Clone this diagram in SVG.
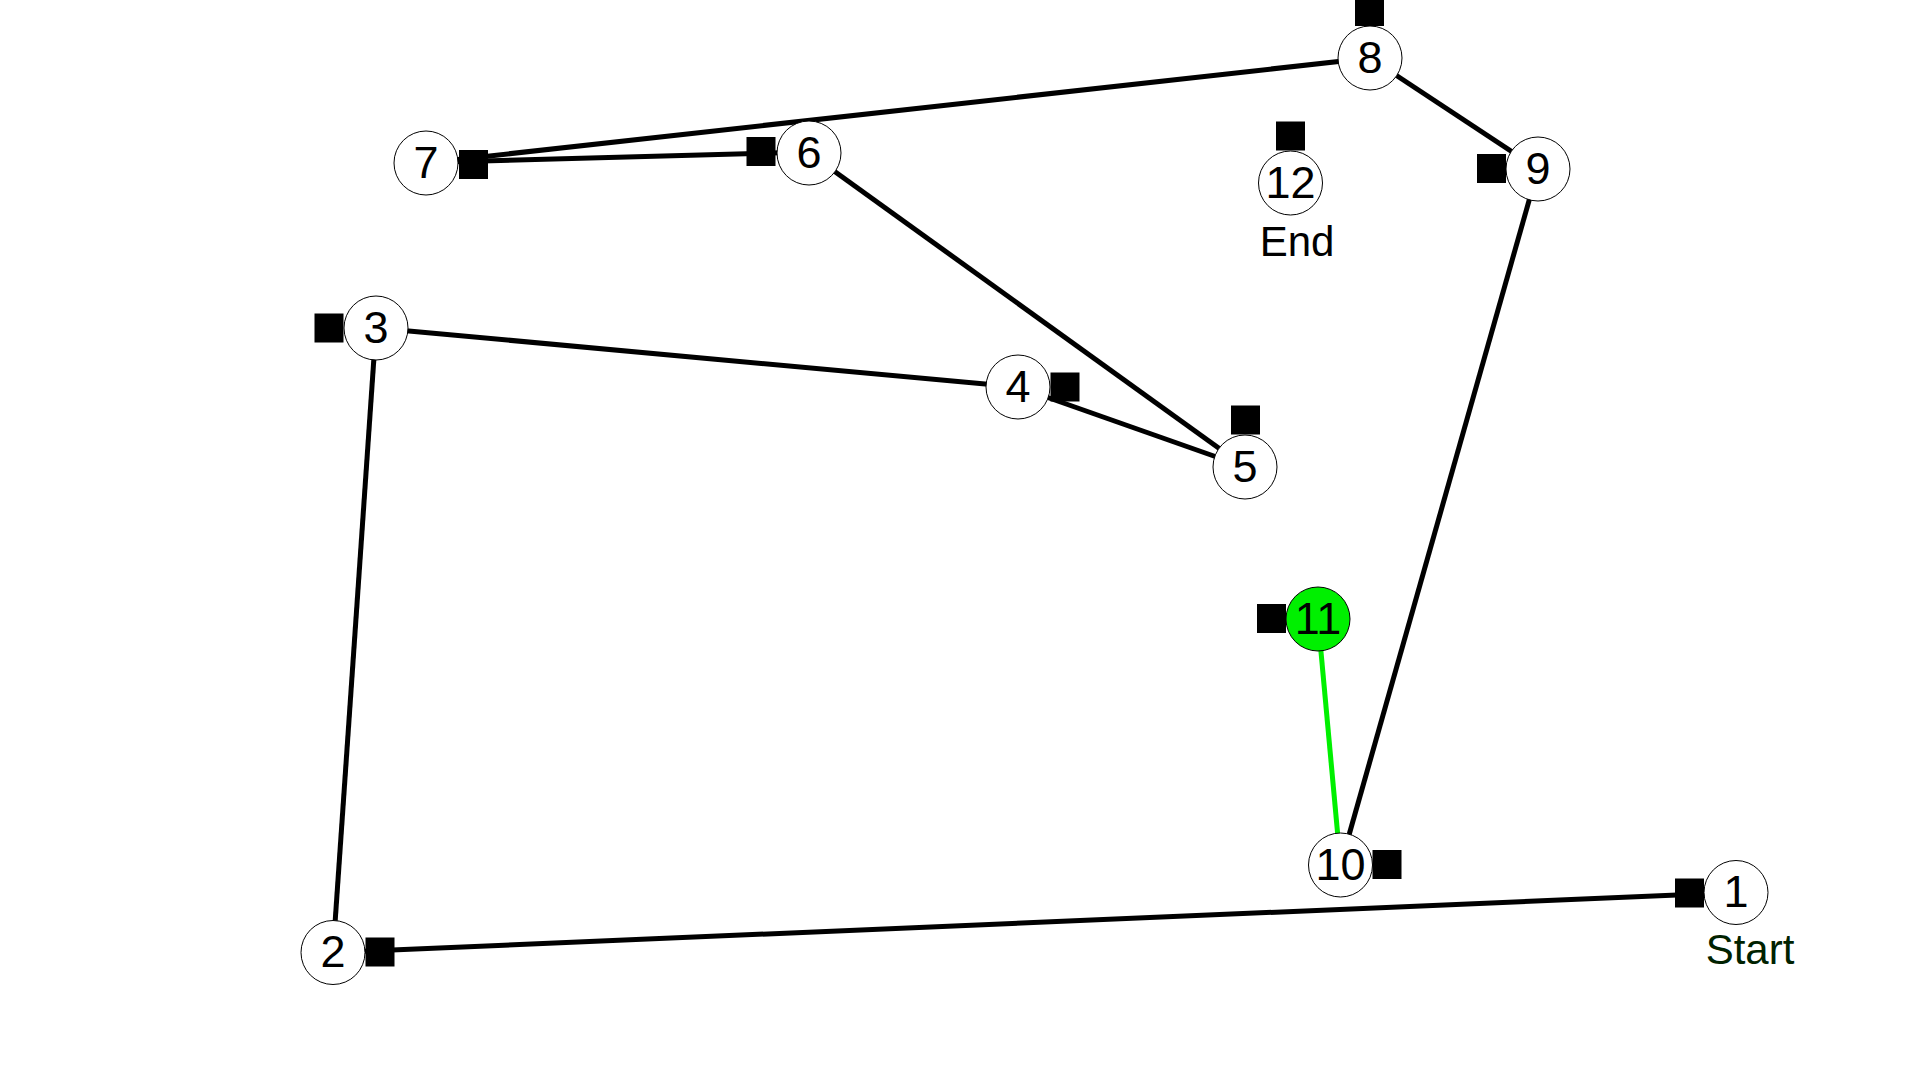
<svg xmlns="http://www.w3.org/2000/svg" width="1920" height="1080" viewBox="0 0 1920 1080">
<style>
.edge{stroke:#000;stroke-width:5;fill:none}
.edge.active{stroke:#00f000;stroke-width:5}
.node circle{fill:#fff;stroke:#000;stroke-width:1}
.node.active circle{fill:#00f000}
.port{fill:#000}
.num{font-family:"Liberation Sans",Arial,sans-serif;font-size:45px;text-anchor:middle;fill:#000}
.lbl{font-family:"Liberation Sans",Arial,sans-serif;font-size:42px;text-anchor:middle}
</style>
<rect width="1920" height="1080" fill="#fff"/>
<g id="connectors">
<line class="edge" x1="1736" y1="892.5" x2="333" y2="952.5"/>
<line class="edge" x1="333" y1="952.5" x2="376" y2="328"/>
<line class="edge" x1="376" y1="328" x2="1018" y2="387"/>
<line class="edge" x1="1018" y1="387" x2="1245" y2="467"/>
<line class="edge" x1="1245" y1="467" x2="809" y2="153"/>
<line class="edge" x1="809" y1="152" x2="426" y2="162.5"/>
<line class="edge" x1="426" y1="163" x2="1370" y2="58"/>
<line class="edge" x1="1370" y1="58" x2="1538" y2="169"/>
<line class="edge" x1="1538" y1="169" x2="1340.5" y2="865"/>
<line class="edge active" x1="1340.5" y1="865" x2="1318" y2="619"/>
</g>
<g id="node1" class="node"><circle cx="1736" cy="892.5" r="32"/><rect class="port" x="1675" y="878.5" width="29" height="29"/><text class="num" x="1736" y="907">1</text><text class="lbl" x="1750" y="964" fill="#002200">Start</text></g>
<g id="node2" class="node"><circle cx="333" cy="952.5" r="32"/><rect class="port" x="365.5" y="937.5" width="29" height="29"/><text class="num" x="333" y="967">2</text></g>
<g id="node3" class="node"><circle cx="376" cy="328" r="32"/><rect class="port" x="314.5" y="313.5" width="29" height="29"/><text class="num" x="376" y="342.5">3</text></g>
<g id="node4" class="node"><circle cx="1018" cy="387" r="32"/><rect class="port" x="1050.5" y="372.5" width="29" height="29"/><text class="num" x="1018" y="401.5">4</text></g>
<g id="node5" class="node"><circle cx="1245" cy="467" r="32"/><rect class="port" x="1231" y="405.5" width="29" height="29"/><text class="num" x="1245" y="481.5">5</text></g>
<g id="node6" class="node"><circle cx="809" cy="153" r="32"/><rect class="port" x="746.5" y="137" width="29" height="29"/><text class="num" x="809" y="167.5">6</text></g>
<g id="node7" class="node"><circle cx="426" cy="163" r="32"/><rect class="port" x="459" y="150" width="29" height="29"/><text class="num" x="426" y="177.5">7</text></g>
<g id="node8" class="node"><circle cx="1370" cy="58" r="32"/><rect class="port" x="1355" y="-3" width="29" height="29"/><text class="num" x="1370" y="72.5">8</text></g>
<g id="node9" class="node"><circle cx="1538" cy="169" r="32"/><rect class="port" x="1477" y="154" width="29" height="29"/><text class="num" x="1538" y="183.5">9</text></g>
<g id="node10" class="node"><circle cx="1340.5" cy="865" r="32"/><rect class="port" x="1372.5" y="850" width="29" height="29"/><text class="num" x="1340.5" y="879.5">10</text></g>
<g id="node11" class="node active"><circle cx="1318" cy="619" r="32"/><rect class="port" x="1257" y="604" width="29" height="29"/><text class="num" x="1318" y="633.5">11</text></g>
<g id="node12" class="node"><circle cx="1290.5" cy="183" r="32"/><rect class="port" x="1276" y="121.5" width="29" height="29"/><text class="num" x="1290.5" y="197.5">12</text><text class="lbl" x="1297" y="256" fill="#000">End</text></g>
</svg>
